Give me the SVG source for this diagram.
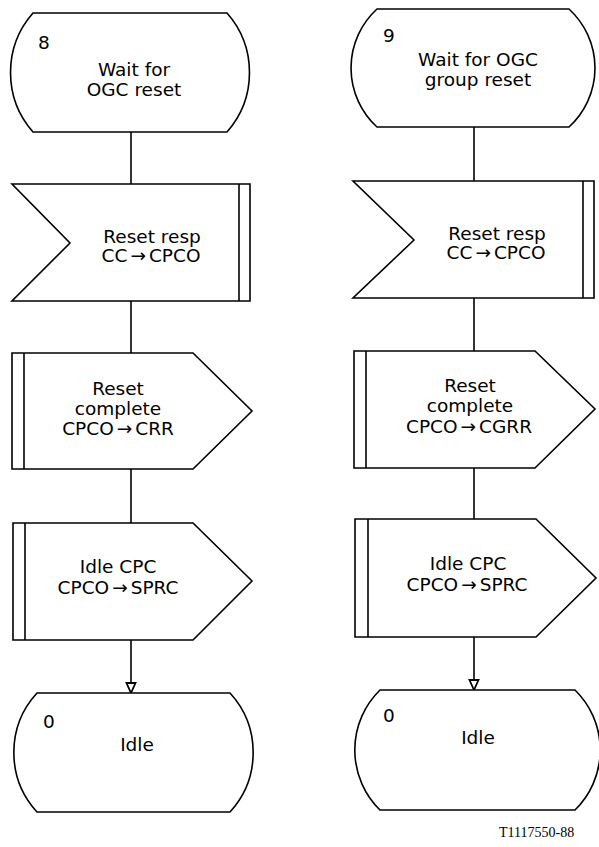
<svg xmlns="http://www.w3.org/2000/svg" width="599" height="847" viewBox="0 0 599 847">
<style>
.shape{fill:#fff;stroke:#000;stroke-width:1.6;stroke-linejoin:miter}
.bar{fill:none;stroke:#000;stroke-width:1.6}
.con{fill:none;stroke:#000;stroke-width:1.6}
.t{font-family:"DejaVu Sans","Liberation Sans",sans-serif;font-size:18.5px;fill:#000;text-anchor:middle}
.n{font-family:"DejaVu Sans","Liberation Sans",sans-serif;font-size:18.5px;fill:#000}
.lbl{font-family:"Liberation Serif","Times New Roman",serif;font-size:14px;fill:#000}
</style>
<defs>
<marker id="arr" viewBox="0 0 12 12" markerUnits="userSpaceOnUse" markerWidth="12" markerHeight="12" refX="11" refY="5.5" orient="auto">
<path d="M1,1 L11,5.5 L1,10 Z" fill="#fff" stroke="#000" stroke-width="1.8"/>
</marker>
</defs>
<rect width="599" height="847" fill="#fff"/>

<g id="connectors">
<line class="con" x1="131" y1="132" x2="131" y2="184"/>
<line class="con" x1="131" y1="301" x2="131" y2="353"/>
<line class="con" x1="131" y1="469" x2="131" y2="523"/>
<line class="con" x1="131" y1="640" x2="131" y2="693" marker-end="url(#arr)"/>
<line class="con" x1="474" y1="127" x2="474" y2="181"/>
<line class="con" x1="474" y1="298" x2="474" y2="351"/>
<line class="con" x1="474" y1="468" x2="474" y2="519"/>
<line class="con" x1="474" y1="637" x2="474" y2="690" marker-end="url(#arr)"/>
</g>

<g id="state8">
<path class="shape" d="M33,13 L227,13 A90,90 0 0 1 227,132 L33,132 A90,90 0 0 1 33,13 Z"/>
<text class="n" x="38" y="49">8</text>
<text class="t" x="134" y="76">Wait for</text>
<text class="t" x="134" y="96">OGC reset</text>
</g>

<g id="input-left">
<path class="shape" d="M12,184 L250,184 L250,301 L12,301 L70,243 Z"/>
<line class="bar" x1="239" y1="184" x2="239" y2="301"/>
<text class="t" x="152" y="243">Reset resp</text>
<text class="t" x="151" y="262">CC<tspan dx="3">→</tspan><tspan dx="3">CPCO</tspan></text>
</g>

<g id="output-left-1">
<path class="shape" d="M12,353 L193,353 L252,411 L193,469 L12,469 Z"/>
<line class="bar" x1="24" y1="353" x2="24" y2="469"/>
<text class="t" x="118" y="395">Reset</text>
<text class="t" x="118" y="415">complete</text>
<text class="t" x="118" y="435">CPCO<tspan dx="3">→</tspan><tspan dx="3">CRR</tspan></text>
</g>

<g id="output-left-2">
<path class="shape" d="M13,523 L193,523 L252,581 L193,640 L13,640 Z"/>
<line class="bar" x1="25" y1="523" x2="25" y2="640"/>
<text class="t" x="118" y="573">Idle CPC</text>
<text class="t" x="118" y="594">CPCO<tspan dx="3">→</tspan><tspan dx="3">SPRC</tspan></text>
</g>

<g id="state0-left">
<path class="shape" d="M37,693 L230,693 A88,88 0 0 1 230,812 L37,812 A88,88 0 0 1 37,693 Z"/>
<text class="n" x="43" y="728">0</text>
<text class="t" x="137" y="751">Idle</text>
</g>

<g id="state9">
<path class="shape" d="M377,9 L569,9 A80,80 0 0 1 569,127 L377,127 A80,80 0 0 1 377,9 Z"/>
<text class="n" x="383" y="42">9</text>
<text class="t" x="478" y="66">Wait for OGC</text>
<text class="t" x="478" y="86">group reset</text>
</g>

<g id="input-right">
<path class="shape" d="M353,181 L594,181 L594,298 L353,298 L414,240 Z"/>
<line class="bar" x1="583" y1="181" x2="583" y2="298"/>
<text class="t" x="497" y="240">Reset resp</text>
<text class="t" x="496" y="259">CC<tspan dx="3">→</tspan><tspan dx="3">CPCO</tspan></text>
</g>

<g id="output-right-1">
<path class="shape" d="M354,351 L535,351 L595,409 L535,468 L354,468 Z"/>
<line class="bar" x1="366" y1="351" x2="366" y2="468"/>
<text class="t" x="470" y="392">Reset</text>
<text class="t" x="470" y="412">complete</text>
<text class="t" x="469" y="433">CPCO<tspan dx="3">→</tspan><tspan dx="3">CGRR</tspan></text>
</g>

<g id="output-right-2">
<path class="shape" d="M355,519 L536,519 L596,578 L536,637 L355,637 Z"/>
<line class="bar" x1="368" y1="519" x2="368" y2="637"/>
<text class="t" x="468" y="570">Idle CPC</text>
<text class="t" x="467" y="591">CPCO<tspan dx="3">→</tspan><tspan dx="3">SPRC</tspan></text>
</g>

<g id="state0-right">
<path class="shape" d="M380,690 L575,690 A84,84 0 0 1 575,810 L380,810 A84,84 0 0 1 380,690 Z"/>
<text class="n" x="383" y="722">0</text>
<text class="t" x="478" y="744">Idle</text>
</g>

<text class="lbl" x="499" y="837">T1117550-88</text>
</svg>
